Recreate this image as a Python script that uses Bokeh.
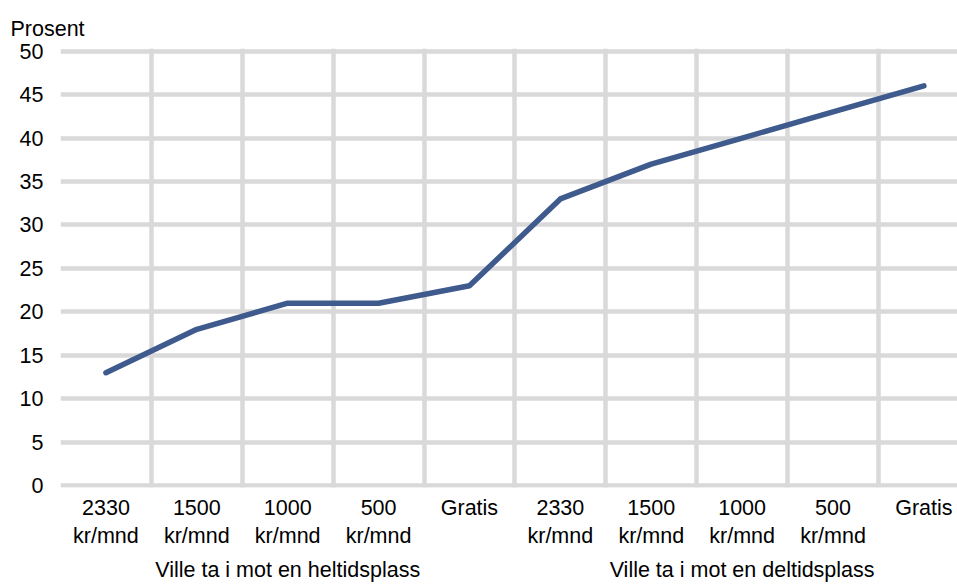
from bokeh.plotting import figure
from bokeh.models import FixedTicker, LinearAxis, Range1d
from bokeh.embed import file_html
from bokeh.resources import INLINE

categories = ["2330\nkr/mnd", "1500\nkr/mnd", "1000\nkr/mnd", "500\nkr/mnd", "Gratis",
              "2330\nkr/mnd", "1500\nkr/mnd", "1000\nkr/mnd", "500\nkr/mnd", "Gratis"]
values = [13, 18, 21, 21, 23, 33, 37, 40, 43, 46]
groups = ["Ville ta i mot en heltidsplass", "Ville ta i mot en deltidsplass"]
group_centers = [2, 7]
y_ticks = [0, 5, 10, 15, 20, 25, 30, 35, 40, 45, 50]

FONT = "Liberation Sans"
FS = "21.5px"
GRID = "#D9D9D9"
LINE = "#3F5A8C"

xs = list(range(len(categories)))

p = figure(width=957, height=584, output_backend="svg", toolbar_location=None,
           x_range=Range1d(-0.5, 9.37), y_range=Range1d(-0.2, 50.3),
           min_border_left=60, min_border_right=0, min_border_top=48, min_border_bottom=80,
           x_axis_location=None)
p.outline_line_color = None
p.background_fill_color = "white"

p.title.text = "Prosent"
p.title.text_font = FONT
p.title.text_font_size = FS
p.title.text_font_style = "normal"
p.title.text_color = "black"
p.title.align = "left"
p.title.offset = -50
p.title.standoff = 16

xaxis = LinearAxis(ticker=FixedTicker(ticks=xs),
                   major_label_overrides={i: c for i, c in zip(xs, categories)})
xaxis2 = LinearAxis(ticker=FixedTicker(ticks=group_centers),
                    major_label_overrides={c: g for c, g in zip(group_centers, groups)})
for ax in (xaxis, xaxis2):
    ax.axis_line_color = None
    ax.major_tick_line_color = None
    ax.minor_tick_line_color = None
    ax.major_tick_out = 0
    ax.major_tick_in = 0
    ax.major_label_text_font = FONT
    ax.major_label_text_font_size = FS
    ax.major_label_text_color = "black"
xaxis.major_label_text_line_height = 1.2
xaxis.major_label_standoff = 8
xaxis2.major_label_standoff = 6
p.add_layout(xaxis, "below")
p.add_layout(xaxis2, "below")

ya = p.yaxis[0]
ya.ticker = FixedTicker(ticks=y_ticks)
ya.axis_line_color = None
ya.major_tick_line_color = None
ya.minor_tick_line_color = None
ya.major_tick_out = 0
ya.major_tick_in = 0
ya.major_label_standoff = 17
ya.major_label_text_font = FONT
ya.major_label_text_font_size = FS
ya.major_label_text_color = "black"

p.ygrid.ticker = FixedTicker(ticks=y_ticks)
p.ygrid.grid_line_color = GRID
p.ygrid.grid_line_width = 4.5
p.xgrid.ticker = FixedTicker(ticks=[i - 0.5 for i in range(len(categories) + 1)])
p.xgrid.grid_line_color = GRID
p.xgrid.grid_line_width = 4.5

p.line(xs, values, line_color=LINE, line_width=5.5, line_join="round", line_cap="round")

open("out.html", "w").write(file_html(p, INLINE))
